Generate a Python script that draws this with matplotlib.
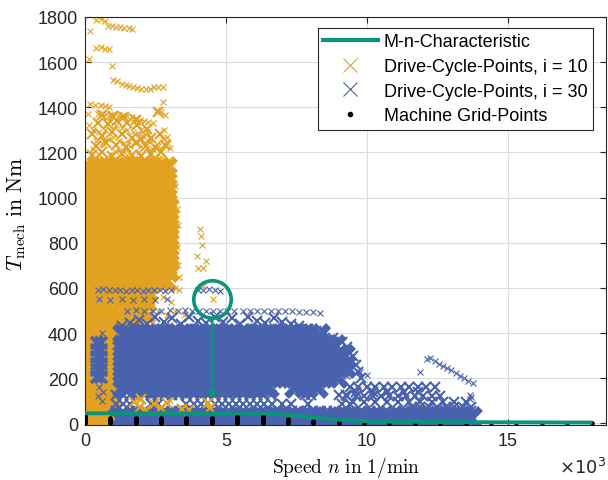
import matplotlib
matplotlib.use('Agg')
import matplotlib.pyplot as plt
from matplotlib.lines import Line2D

plt.rcParams['font.family'] = ['Liberation Sans', 'DejaVu Sans']
plt.rcParams['mathtext.fontset'] = 'cm'

# ---------------- data ----------------
# M-n characteristic
mn_speed = [0, 6300, 7000, 7700, 8500, 9300, 10000, 11000, 13000, 15000, 18000]
mn_torque = [45, 45, 40, 32, 22, 14, 10, 8, 6, 5, 4]

# Machine grid points (speed columns, max torque per column, torque levels)
grid_speed = [0, 900, 1800, 2700, 3600, 4500, 5400, 6300, 7200, 8100, 9000, 9900,
              10800, 11700, 12600, 13500, 14400, 15300, 16200, 17100, 18000]
grid_tmax = [40, 28, 28, 28, 28, 28, 35, 35, 22, 10, 5, 2, 0, 0, 0, 0, 0, 0, 0, 0, 0]
grid_levels = [0, 5, 10, 15, 20, 25, 30, 35, 40]

# Drive-cycle points, i = 10 : sparse points
i10_speed = [180, 400, 550, 700, 800, 950, 1100, 1250, 1400, 1550, 1650,
             400, 550, 700, 850, 140, 950,
             1000, 1150, 1300, 1450, 1550, 1700, 1850, 2000, 2150, 2300, 2450, 2600, 2750, 2770,
             180, 350, 550, 700, 850, 100, 130, 280,
             450, 600, 750, 900, 1050, 1200, 1350, 1500, 1650, 1800, 1950, 2100, 2250, 2400,
             900, 1100, 1300, 1500, 1700, 1900, 2100, 2300, 2200, 2000,
             2550, 2700, 2850, 2800, 2900, 2950, 3000, 2750,
             300, 500, 700, 400, 600, 800, 1000, 1200, 1400, 1600, 1800, 2000, 2200, 2400, 2600,
             1100, 1500, 1900, 2300, 500, 900, 2700,
             4080, 4100, 4150, 3970, 4300, 4200, 4000, 4190, 4540,
             3200, 3250, 3300, 3250, 3300, 3350, 3200,
             2450, 2750, 3050, 3350, 2600, 2900, 3200, 3500, 2400, 2700, 3000, 2300, 2600,
             1300, 1600, 2000, 2400, 1200, 1700, 2200, 2700, 1400, 1900, 2500, 3000, 1100,
             2800, 3100, 1500, 2600, 300, 700, 1000, 300, 700, 1000]
i10_torque = [1738, 1785, 1790, 1783, 1762, 1758, 1755, 1755, 1752, 1750, 1748,
              1663, 1665, 1660, 1660, 1614, 1584,
              1520, 1515, 1505, 1500, 1495, 1490, 1485, 1482, 1480, 1483, 1490, 1492, 1488, 1424,
              1415, 1412, 1410, 1405, 1400, 1370, 1320, 1215,
              1370, 1375, 1372, 1368, 1370, 1368, 1365, 1360, 1358, 1352, 1345, 1340, 1335, 1330,
              1340, 1320, 1310, 1300, 1290, 1280, 1270, 1260, 1290, 1300,
              1390, 1380, 1365, 1300, 1270, 1240, 1220, 1260,
              1300, 1290, 1300, 1250, 1240, 1260, 1270, 1250, 1240, 1230, 1250, 1230, 1220, 1215, 1230,
              1200, 1190, 1200, 1190, 1190, 1195, 1180,
              860, 830, 790, 740, 720, 690, 690, 607, 550,
              1050, 950, 880, 780, 700, 650, 600,
              590, 560, 540, 590, 500, 480, 500, 480, 450, 430, 440, 400, 390,
              330, 300, 280, 250, 220, 200, 170, 150, 130, 110, 120, 100, 280,
              320, 250, 380, 360, 400, 380, 350, 120, 200, 250]

# Drive-cycle points, i = 10 : medium-density band 1180-1380 Nm
i10_upper_speed = [250, 600, 950, 1300, 1650, 2000, 2350, 2700,
                   400, 750, 1100, 1450, 1800, 2150, 2500, 2850,
                   250, 600, 950, 1300, 1650, 2000, 2350, 2650,
                   450, 800, 1150, 1500, 1850, 2200,
                   600, 1000, 1400, 1800, 2600]
i10_upper_torque = [1190, 1200, 1185, 1195, 1190, 1185, 1195, 1200,
                    1230, 1240, 1235, 1225, 1240, 1230, 1225, 1235,
                    1280, 1275, 1290, 1280, 1265, 1260, 1265, 1280,
                    1330, 1325, 1340, 1330, 1320, 1305,
                    1365, 1360, 1355, 1345, 1380]

# Drive-cycle points, i = 10 : dense core (torque row -> speeds)
i10_core = {
    1130: [150, 500, 850, 1200, 1550, 1900, 2250, 2600, 2850],
    1085: [150, 500, 850, 1200, 1550, 1900, 2250, 2600, 2850],
    1040: [150, 500, 850, 1200, 1550, 1900, 2250, 2600, 2850],
    995: [150, 500, 850, 1200, 1550, 1900, 2250, 2600, 2850],
    950: [150, 500, 850, 1200, 1550, 1900, 2250, 2600, 2900],
    905: [150, 500, 850, 1200, 1550, 1900, 2250, 2600, 2900],
    860: [150, 500, 850, 1200, 1550, 1900, 2250, 2600, 2900],
    815: [150, 500, 850, 1200, 1550, 1900, 2250, 2600, 2900],
    770: [150, 500, 850, 1200, 1550, 1900, 2250, 2600, 2900],
    725: [150, 500, 850, 1200, 1550, 1900, 2250, 2600, 2900],
    680: [150, 500, 850, 1200, 1550, 1900, 2250, 2600, 2900],
    635: [150, 500, 850, 1200, 1550, 1900, 2250, 2600, 2850],
    590: [150, 500, 850, 1200, 1550, 1900, 2150],
    545: [150, 500, 850, 1200, 1550, 1900, 2100],
    500: [150, 500, 850, 1550, 1900, 2050],
    455: [150, 500, 850, 1200, 1550, 1850],
    410: [150, 500, 850, 1200, 1450],
    365: [150, 850],
    320: [150, 850],
    275: [150, 850],
    230: [150, 850],
    185: [150, 850],
    140: [150, 500, 850],
    95: [150, 500, 850],
    50: [150, 500, 850],
    10: [150, 500, 850],
}

# Drive-cycle points, i = 10 : low blobs lying over the i = 30 points
i10_low_speed = [1750, 1950, 2150, 2000, 2450, 2700, 2900, 3450, 3700, 4350, 4450]
i10_low_torque = [95, 75, 60, 110, 85, 70, 90, 65, 60, 90, 70]

# Drive-cycle points, i = 30 : sparse points
i30_speed = [450, 650, 850, 1050, 1250, 1450, 1650, 1850, 2050, 2250, 2450, 2650, 2850, 3050,
             4000, 4200, 4400, 4600, 4800,
             500, 900, 1300, 1700, 2100, 2500, 2900,
             1500, 1800, 2100, 2400, 2700, 3000, 3300, 3550, 3800, 4050, 4300, 4550, 4800, 5050,
             5300, 5600, 5850, 6100, 6350, 6600, 6850, 7100, 7350, 7600, 7850, 8100, 8330,
             450, 600, 500, 650, 450, 600,
             11880, 12130, 12250, 12400, 12550, 12700, 12850, 13000, 13150, 13300, 13450, 13600, 13750,
             9300, 9300, 9300, 9300, 10700, 10700, 13650, 13650, 13700, 9750, 10000]
i30_torque = [590, 595, 590, 592, 590, 588, 592, 590, 588, 590, 592, 590, 588, 590,
              590, 592, 595, 590, 588,
              550, 545, 550, 548, 550, 545, 550,
              500, 502, 500, 498, 500, 502, 500, 502, 500, 500, 498, 500, 500, 498,
              500, 500, 498, 500, 497, 500, 498, 500, 497, 495, 495, 492, 490,
              380, 400, 160, 140, 120, 100,
              226, 284, 290, 275, 262, 255, 245, 235, 225, 210, 200, 190, 180,
              210, 235, 260, 275, 142, 150, 110, 125, 118, 226, 215]

# Drive-cycle points, i = 30 : upper edge of main block
i30_edge_speed = [1300, 1600, 1900, 2200, 2500, 2800, 3100, 3400, 3700, 4000, 4300, 4600,
                  4900, 5200, 5500, 5800, 6100, 6400, 6700, 7000, 7300, 7600, 7900, 8200,
                  8500, 8800, 9100, 9300, 9500, 9600, 9700, 9800,
                  1450, 2050, 2650, 3250, 3850, 4450, 5050, 5650, 6250, 6850, 7450, 8050, 8650]
i30_edge_torque = [430, 445, 460, 440, 470, 450, 465, 440, 470, 455, 445, 470,
                   450, 465, 440, 470, 455, 445, 465, 450, 440, 430, 420, 410,
                   400, 380, 360, 340, 300, 260, 230, 200,
                   410, 420, 415, 420, 418, 420, 418, 420, 415, 418, 410, 395, 370]

# Drive-cycle points, i = 30 : dense core (torque row -> speeds)
i30_core = {
    390: [1400, 1600, 1950, 2300, 2650, 3000, 3350, 3700, 4050, 4400, 4750, 5100, 5450,
          5800, 6150, 6500, 6850, 7200, 7550, 7900, 8250],
    345: [1380, 1550, 1900, 2250, 2600, 2950, 3300, 3650, 4000, 4350, 4700, 5050, 5400,
          5750, 6100, 6450, 6800, 7150, 7500, 7850, 8200, 8550, 8850],
    300: [1380, 1550, 1900, 2250, 2600, 2950, 3300, 3650, 4000, 4350, 4700, 5050, 5400,
          5750, 6100, 6450, 6800, 7150, 7500, 7850, 8200, 8550, 8900, 9150],
    255: [1380, 1550, 1900, 2250, 2600, 2950, 3300, 3650, 4000, 4350, 4700, 5050, 5400,
          5750, 6100, 6450, 6800, 7150, 7500, 7850, 8200, 8550, 8900, 9200],
    210: [1380, 1550, 1900, 2250, 2600, 2950, 3300, 3650, 4000, 4350, 4700, 5050, 5400,
          5750, 6100, 6450, 6800, 7150, 7500, 7850, 8200, 8550, 8900],
    165: [1380, 1550, 1900, 2250, 2600, 2950, 3300, 3650, 4000, 4350, 4700, 5050, 5400,
          5750, 6100, 6450, 7500, 7850, 8200],
    22: [1250, 1400, 1750, 2100, 2450, 2800, 3150, 3500, 3850, 4200, 4550, 4900, 5250,
         5600, 5950, 6300, 6650, 7000, 7350, 7700, 8050, 8400, 8750, 9100, 9450, 9800,
         10150, 10500, 10850, 11200, 11550, 11900, 12250, 12600, 12950, 13300, 13650],
}
# Drive-cycle points, i = 30 : dark column at low speed (torque row -> speeds)
i30_column = {
    355: [420, 560],
    325: [420, 560],
    295: [420, 560],
    265: [420, 560],
    235: [420, 560],
    205: [420, 560],
}
# Drive-cycle points, i = 30 : medium-density rows (torque row -> speeds)
i30_mid = {
    125: [1100, 1350, 1600, 1850, 2100, 2350, 2600, 2850, 3100, 3350, 3600, 3850, 4100,
          4350, 4600, 4850, 5100, 5350, 5600, 5850, 6100, 6350, 6600, 7800, 8000, 9000, 9250],
    85: [1100, 1350, 1600, 2350, 2600, 3600, 3850, 4100, 4600, 4850, 5100, 5350, 5600,
         5850, 6100, 6350, 6650, 7000, 7300, 7900, 9100, 9400],
    55: [1100, 1350, 1600, 3100, 3350, 3600, 3850, 4100, 4350, 4600, 4850, 5100, 5350,
         5600, 5850, 6100, 6350, 6600, 6850, 7100, 7350, 7600, 7850, 8100, 8350, 8600, 8850],
}
# Drive-cycle points, i = 30 : band above 9000 1/min (torque row -> speeds)
i30_right = {
    160: [9400, 9700, 10000, 10300, 10600, 10900, 11200, 11500, 11800, 12100, 12400],
    140: [9600, 10200, 10700, 11300, 11800],
    120: [9300, 9600, 9900, 10200, 10500, 10800, 11100, 11400, 11700, 12000, 12300, 12600],
    95: [9500, 9900, 10300, 10700, 11100, 11500, 11900, 12300, 12700, 13100, 13500],
    75: [11600, 11900, 12200, 12500, 12800, 13100, 13400, 13700],
    55: [9200, 9500, 9800, 10100, 10400, 10700, 11000, 11300, 11600, 11900, 12200, 12500,
         12800, 13100, 13400, 13700],
}

# annotation (marked operating point)
mark_speed, mark_torque = 4520, 550
arrow_from, arrow_to = 470, 105

x_ticks = [0, 5000, 10000, 15000]
x_ticklabels = ['0', '5', '10', '15']
y_ticks = [0, 200, 400, 600, 800, 1000, 1200, 1400, 1600, 1800]

# ---------------- style ----------------
C_OR = '#E3A122'
C_BL = '#4862AE'
C_GR = '#0A9478'


def rows_xy(rows):
    xs, ys = [], []
    for t, sp in rows.items():
        xs += sp
        ys += [t] * len(sp)
    return xs, ys


fig = plt.figure(figsize=(6.08, 4.81), dpi=100)
ax = fig.add_axes([0.1398, 0.1152, 0.8577, 0.8474])
ax.set_axisbelow(True)

small = dict(linestyle='none', marker='x', markersize=5, markeredgewidth=0.8)
big = dict(linestyle='none', marker='x', markersize=14, markeredgewidth=5.0)
mid = dict(linestyle='none', marker='x', markersize=7, markeredgewidth=1.5)
midheavy = dict(linestyle='none', marker='x', markersize=8, markeredgewidth=2.6)

# i = 10
ax.plot(i10_upper_speed, i10_upper_torque, color=C_OR, **mid)
cx, cy = rows_xy(i10_core)
ax.plot(cx, cy, color=C_OR, **big)
ax.plot(i10_speed, i10_torque, color=C_OR, **small)

# i = 30
cx, cy = rows_xy(i30_mid)
ax.plot(cx, cy, color=C_BL, **mid)
cx, cy = rows_xy(i30_right)
ax.plot(cx, cy, color=C_BL, **mid)
ax.plot(i30_edge_speed, i30_edge_torque, color=C_BL, **mid)
cx, cy = rows_xy(i30_core)
ax.plot(cx, cy, color=C_BL, **big)
cx, cy = rows_xy(i30_column)
ax.plot(cx, cy, color=C_BL, **midheavy)
ax.plot(i30_speed, i30_torque, color=C_BL, **small)

# i = 10 low blobs on top
ax.plot(i10_low_speed, i10_low_torque, color=C_OR, **mid)

# machine grid
gx, gy = [], []
for s, tm in zip(grid_speed, grid_tmax):
    for t in grid_levels:
        if t <= tm:
            gx.append(s)
            gy.append(t)
ax.plot(gx, gy, linestyle='none', marker='o', markersize=2.3, color='black', zorder=4)

# M-n characteristic
ax.plot(mn_speed, mn_torque, color=C_GR, linewidth=2.8, zorder=5, solid_capstyle='butt')

# annotation
ax.plot([mark_speed], [mark_torque], marker='o', markersize=27, markerfacecolor='none',
        markeredgecolor=C_GR, markeredgewidth=2.6, zorder=6)
ax.annotate('', xy=(mark_speed, arrow_to), xytext=(mark_speed, arrow_from),
            arrowprops=dict(arrowstyle='-|>', color=C_GR, lw=1.8, mutation_scale=11,
                            shrinkA=0, shrinkB=0), zorder=6)

ax.set_xlim(0, 18500)
ax.set_ylim(-5, 1800)
ax.set_xticks(x_ticks)
ax.set_xticklabels(x_ticklabels)
ax.set_yticks(y_ticks)
ax.grid(True, color='#DCDCDC', linewidth=0.8)
ax.tick_params(direction='in', top=True, right=True, length=4, width=0.8,
               labelsize=13, colors='#262626', pad=5)
for sp in ax.spines.values():
    sp.set_color('#262626')
    sp.set_linewidth(0.8)

ax.set_xlabel(r'$\mathrm{Speed}\ n\ \mathrm{in}\ 1/\mathrm{min}$', fontsize=14, labelpad=4)
ax.set_ylabel(r'$T_\mathrm{mech}\ \mathrm{in}\ \mathrm{Nm}$', fontsize=15.5, labelpad=2)
ax.yaxis.set_label_coords(-0.11, 0.52)
fig.text(0.958, 0.027, r'$\times10^{3}$', fontsize=13, ha='center', va='center',
         color='#262626', math_fontfamily='dejavusans')

handles = [
    Line2D([], [], color=C_GR, linewidth=3),
    Line2D([], [], color=C_OR, linestyle='none', marker='x', markersize=10, markeredgewidth=0.8),
    Line2D([], [], color=C_BL, linestyle='none', marker='x', markersize=10, markeredgewidth=0.8),
    Line2D([], [], color='black', linestyle='none', marker='o', markersize=3),
]
labels = ['M-n-Characteristic', 'Drive-Cycle-Points, i = 10',
          'Drive-Cycle-Points, i = 30', 'Machine Grid-Points']
leg = ax.legend(handles, labels, loc='upper right', bbox_to_anchor=(0.974, 0.973),
                borderaxespad=0, fontsize=13, handlelength=3.0, handletextpad=0.35,
                labelspacing=0.42, borderpad=0.3, fancybox=False, framealpha=1,
                edgecolor='#262626')
leg.get_frame().set_linewidth(0.8)

fig.savefig('out.png', dpi=100)
